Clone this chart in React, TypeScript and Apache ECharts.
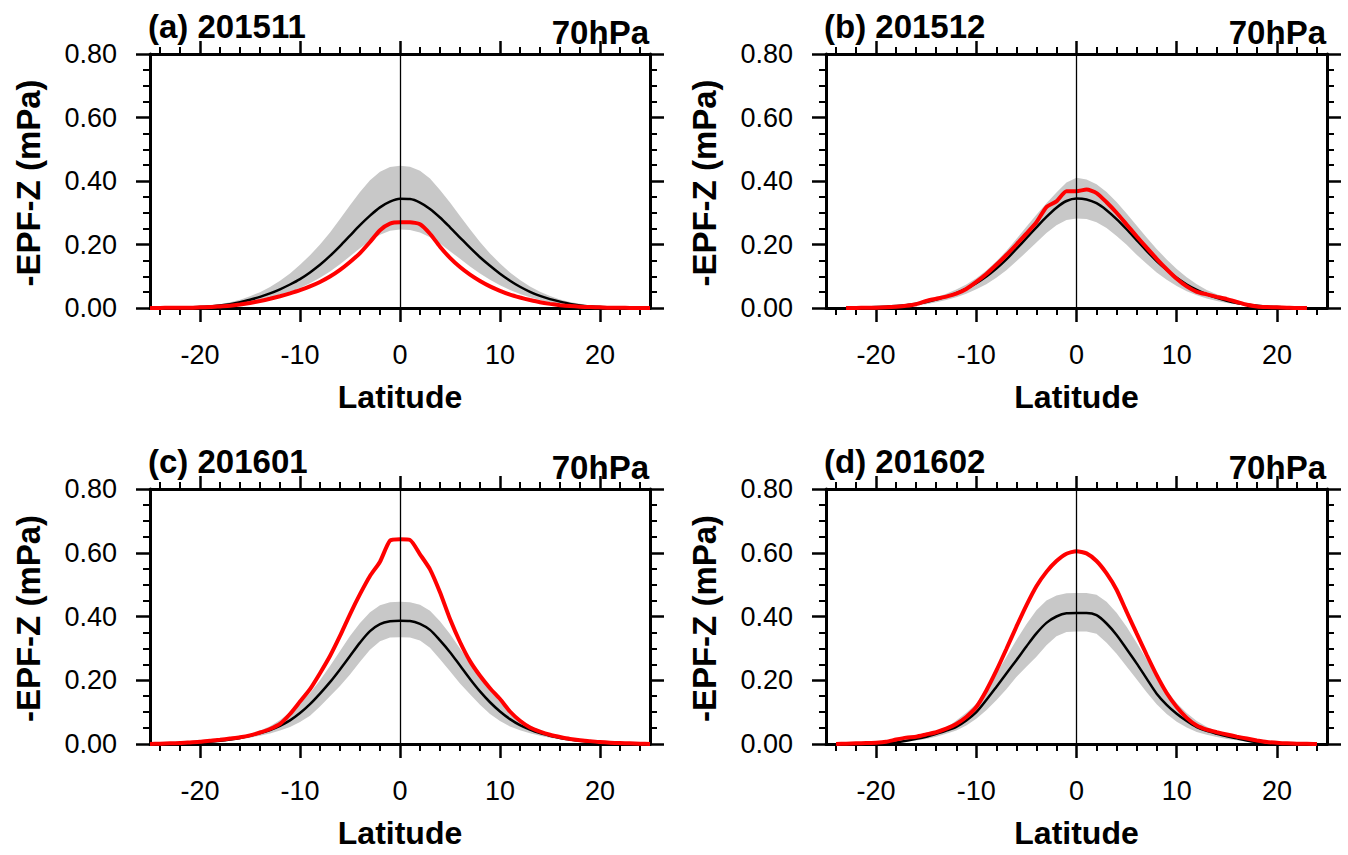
import React, { useEffect, useRef } from "react";
import * as echarts from "echarts";

// ---------------- data ----------------
const latA = [-25,-24,-23,-22,-21,-20,-19,-18,-17,-16,-15,-14,-13,-12,-11,-10,-9,-8,-7,-6,-5,-4,-3,-2,-1,0,1,2,3,4,5,6,7,8,9,10,11,12,13,14,15,16,17,18,19,20,21,22,23,24,25];
const blackA = [0.000,0.000,0.001,0.001,0.002,0.003,0.005,0.008,0.012,0.018,0.026,0.035,0.046,0.059,0.074,0.091,0.112,0.136,0.164,0.195,0.228,0.261,0.291,0.317,0.335,0.344,0.343,0.332,0.312,0.285,0.254,0.222,0.190,0.160,0.133,0.108,0.086,0.067,0.051,0.038,0.028,0.020,0.013,0.008,0.005,0.003,0.002,0.001,0.001,0.000,0.000];
const upperA = [0.000,0.001,0.001,0.002,0.003,0.005,0.008,0.012,0.018,0.026,0.037,0.050,0.066,0.086,0.109,0.136,0.166,0.200,0.238,0.280,0.324,0.365,0.402,0.429,0.444,0.448,0.445,0.432,0.408,0.372,0.332,0.290,0.248,0.208,0.172,0.140,0.112,0.088,0.068,0.051,0.038,0.027,0.019,0.013,0.008,0.005,0.003,0.002,0.001,0.001,0.000];
const lowerA = [0.000,0.000,0.000,0.001,0.001,0.002,0.003,0.005,0.007,0.011,0.016,0.022,0.030,0.039,0.050,0.063,0.078,0.095,0.115,0.138,0.163,0.188,0.212,0.231,0.243,0.247,0.246,0.238,0.223,0.203,0.179,0.155,0.131,0.109,0.089,0.072,0.057,0.044,0.034,0.025,0.018,0.012,0.008,0.005,0.003,0.002,0.001,0.001,0.000,0.000,0.000];
const redA = [0.000,0.000,0.001,0.001,0.001,0.002,0.003,0.005,0.007,0.011,0.016,0.022,0.029,0.037,0.046,0.056,0.068,0.082,0.099,0.120,0.145,0.173,0.208,0.245,0.266,0.270,0.270,0.264,0.234,0.193,0.158,0.129,0.105,0.085,0.068,0.054,0.042,0.033,0.025,0.018,0.013,0.009,0.006,0.004,0.003,0.002,0.001,0.001,0.000,0.000,0.000];

const latB = [-23,-22,-21,-20,-19,-18,-17,-16,-15,-14,-13,-12,-11,-10,-9,-8,-7,-6,-5,-4,-3,-2,-1,0,1,2,3,4,5,6,7,8,9,10,11,12,13,14,15,16,17,18,19,20,21,22,23];
const blackB = [0.001,0.001,0.002,0.003,0.004,0.006,0.009,0.013,0.019,0.027,0.036,0.047,0.061,0.078,0.099,0.124,0.153,0.186,0.220,0.254,0.287,0.316,0.337,0.345,0.342,0.330,0.308,0.280,0.248,0.214,0.180,0.148,0.120,0.095,0.074,0.057,0.043,0.032,0.023,0.016,0.011,0.007,0.004,0.003,0.002,0.001,0.001];
const upperB = [0.001,0.002,0.003,0.004,0.006,0.009,0.013,0.018,0.025,0.034,0.045,0.058,0.074,0.094,0.118,0.147,0.180,0.217,0.256,0.294,0.330,0.364,0.395,0.410,0.405,0.390,0.365,0.334,0.298,0.260,0.222,0.186,0.153,0.123,0.097,0.075,0.057,0.043,0.032,0.023,0.016,0.011,0.007,0.004,0.003,0.002,0.001];
const lowerB = [0.000,0.000,0.001,0.001,0.002,0.003,0.005,0.008,0.012,0.018,0.025,0.034,0.045,0.059,0.075,0.095,0.119,0.147,0.176,0.206,0.236,0.261,0.277,0.282,0.280,0.270,0.252,0.227,0.199,0.168,0.139,0.112,0.089,0.069,0.053,0.040,0.030,0.022,0.016,0.011,0.007,0.004,0.003,0.002,0.001,0.000,0.000];
const redB = [0.000,0.000,0.001,0.001,0.002,0.004,0.007,0.012,0.022,0.029,0.036,0.045,0.060,0.082,0.107,0.136,0.167,0.200,0.234,0.270,0.318,0.336,0.368,0.368,0.373,0.362,0.333,0.300,0.263,0.226,0.190,0.155,0.122,0.092,0.068,0.051,0.043,0.035,0.028,0.019,0.010,0.005,0.003,0.002,0.001,0.000,0.000];

const latC = [-25,-24,-23,-22,-21,-20,-19,-18,-17,-16,-15,-14,-13,-12,-11,-10,-9,-8,-7,-6,-5,-4,-3,-2,-1,0,1,2,3,4,5,6,7,8,9,10,11,12,13,14,15,16,17,18,19,20,21,22,23,24,25];
const blackC = [0.000,0.001,0.001,0.002,0.003,0.005,0.007,0.010,0.014,0.019,0.026,0.034,0.044,0.057,0.074,0.097,0.125,0.158,0.194,0.234,0.276,0.318,0.354,0.376,0.385,0.387,0.386,0.377,0.358,0.325,0.288,0.246,0.204,0.165,0.131,0.102,0.078,0.059,0.045,0.034,0.026,0.019,0.014,0.010,0.007,0.005,0.003,0.002,0.001,0.001,0.000];
const upperC = [0.000,0.001,0.002,0.003,0.004,0.006,0.008,0.012,0.017,0.023,0.031,0.042,0.056,0.075,0.100,0.128,0.160,0.200,0.245,0.292,0.339,0.380,0.413,0.435,0.445,0.446,0.445,0.437,0.418,0.385,0.345,0.300,0.254,0.208,0.167,0.132,0.103,0.078,0.058,0.043,0.032,0.023,0.017,0.012,0.008,0.006,0.004,0.003,0.002,0.001,0.000];
const lowerC = [0.000,0.000,0.001,0.001,0.002,0.004,0.006,0.008,0.011,0.015,0.020,0.026,0.033,0.042,0.053,0.069,0.089,0.118,0.150,0.182,0.218,0.258,0.296,0.322,0.334,0.335,0.334,0.325,0.302,0.266,0.228,0.190,0.156,0.123,0.094,0.072,0.055,0.043,0.034,0.026,0.020,0.015,0.011,0.008,0.006,0.004,0.002,0.001,0.001,0.000,0.000];
const redC = [0.000,0.001,0.002,0.003,0.005,0.007,0.010,0.013,0.017,0.021,0.027,0.036,0.047,0.063,0.094,0.133,0.172,0.222,0.276,0.339,0.407,0.470,0.527,0.572,0.638,0.642,0.640,0.595,0.548,0.476,0.392,0.320,0.260,0.214,0.175,0.141,0.102,0.073,0.052,0.039,0.029,0.022,0.016,0.012,0.009,0.006,0.004,0.003,0.002,0.001,0.000];

const latD = [-24,-23,-22,-21,-20,-19,-18,-17,-16,-15,-14,-13,-12,-11,-10,-9,-8,-7,-6,-5,-4,-3,-2,-1,0,1,2,3,4,5,6,7,8,9,10,11,12,13,14,15,16,17,18,19,20,21,22,23,24];
const blackD = [0.000,0.000,0.000,0.001,0.001,0.002,0.005,0.010,0.016,0.023,0.032,0.042,0.054,0.074,0.100,0.138,0.179,0.221,0.263,0.306,0.347,0.380,0.400,0.410,0.411,0.411,0.404,0.378,0.342,0.298,0.253,0.205,0.158,0.123,0.095,0.072,0.053,0.041,0.032,0.024,0.018,0.011,0.006,0.003,0.001,0.001,0.000,0.000,0.000];
const upperD = [0.000,0.000,0.001,0.001,0.002,0.004,0.008,0.013,0.020,0.028,0.038,0.050,0.074,0.098,0.126,0.172,0.221,0.273,0.326,0.376,0.420,0.450,0.466,0.473,0.474,0.474,0.468,0.446,0.412,0.368,0.318,0.265,0.214,0.168,0.129,0.097,0.072,0.054,0.040,0.029,0.021,0.014,0.008,0.004,0.002,0.001,0.001,0.000,0.000];
const lowerD = [0.000,0.000,0.000,0.000,0.001,0.001,0.003,0.006,0.011,0.016,0.023,0.032,0.042,0.058,0.079,0.106,0.137,0.172,0.210,0.242,0.274,0.310,0.338,0.351,0.353,0.353,0.346,0.318,0.283,0.243,0.203,0.162,0.125,0.094,0.070,0.052,0.038,0.029,0.022,0.016,0.012,0.007,0.004,0.002,0.001,0.000,0.000,0.000,0.000];
const redD = [0.000,0.001,0.002,0.003,0.004,0.007,0.014,0.020,0.023,0.030,0.037,0.048,0.063,0.085,0.116,0.168,0.230,0.298,0.368,0.435,0.495,0.540,0.574,0.597,0.605,0.598,0.574,0.535,0.484,0.415,0.347,0.280,0.216,0.160,0.116,0.082,0.058,0.045,0.037,0.030,0.023,0.017,0.011,0.006,0.004,0.002,0.001,0.001,0.000];

const titles = ["(a) 201511", "(b) 201512", "(c) 201601", "(d) 201602"];
const levelLabel = "70hPa";
const yName = "-EPF-Z (mPa)";
const xName = "Latitude";
const majorX = [-20, -10, 0, 10, 20];
const minorX = [-24, -22, -18, -16, -14, -12, -8, -6, -4, -2, 2, 4, 6, 8, 12, 14, 16, 18, 22, 24];

const panels = [
  { lat: latA, black: blackA, upper: upperA, lower: lowerA, red: redA },
  { lat: latB, black: blackB, upper: upperB, lower: lowerB, red: redB },
  { lat: latC, black: blackC, upper: upperC, lower: lowerC, red: redC },
  { lat: latD, black: blackD, upper: upperD, lower: lowerD, red: redD },
];

// ---------------- layout ----------------
const GRIDS = [
  { left: 150, top: 54, width: 500, height: 254 },
  { left: 826, top: 54, width: 501, height: 254 },
  { left: 150, top: 489, width: 500, height: 255 },
  { left: 826, top: 489, width: 501, height: 255 },
];

const FONT = '"Liberation Sans", Arial, Helvetica, sans-serif';
const BLACK = "#000000";

function buildOption() {
  const grid: any[] = [];
  const xAxis: any[] = [];
  const yAxis: any[] = [];
  const series: any[] = [];
  const graphic: any[] = [];

  GRIDS.forEach((g, gi) => {
    grid.push({ left: g.left, top: g.top, width: g.width, height: g.height, containLabel: false });

    const baseX = {
      gridIndex: gi,
      type: "value",
      min: -25,
      max: 25,
      splitLine: { show: false },
      minorSplitLine: { show: false },
    };
    const tickLine = { color: BLACK, width: 2.5 };
    const minorLine = { color: BLACK, width: 2 };
    xAxis.push({
      ...baseX,
      position: "bottom",
      axisLine: { show: true, onZero: false, lineStyle: { color: BLACK, width: 3 } },
      axisTick: { show: true, inside: false, customValues: majorX, length: 14, lineStyle: tickLine },
      axisLabel: {
        show: true,
        customValues: majorX,
        margin: 33,
        fontSize: 27,
        color: BLACK,
        fontFamily: FONT,
      },
    });
    xAxis.push({
      ...baseX,
      position: "bottom",
      axisLine: { show: false, onZero: false },
      axisTick: { show: true, inside: false, customValues: minorX, length: 7, lineStyle: minorLine },
      axisLabel: { show: false },
    });
    xAxis.push({
      ...baseX,
      position: "top",
      axisLine: { show: true, onZero: false, lineStyle: { color: BLACK, width: 3 } },
      axisTick: { show: true, inside: false, customValues: majorX, length: 13, lineStyle: tickLine },
      axisLabel: { show: false },
    });
    xAxis.push({
      ...baseX,
      position: "top",
      axisLine: { show: false, onZero: false },
      axisTick: { show: true, inside: false, customValues: minorX, length: 7, lineStyle: minorLine },
      axisLabel: { show: false },
    });

    const baseY = {
      gridIndex: gi,
      type: "value",
      min: 0,
      max: 0.8,
      interval: 0.2,
      splitLine: { show: false },
      minorSplitLine: { show: false },
      axisLine: { show: true, onZero: false, lineStyle: { color: BLACK, width: 3 } },
      axisTick: { show: true, inside: false, length: 14, lineStyle: tickLine },
      minorTick: { show: true, splitNumber: 4, length: 7, lineStyle: minorLine },
    };
    yAxis.push({
      ...baseY,
      position: "left",
      axisLabel: {
        show: true,
        margin: 33,
        fontSize: 27,
        color: BLACK,
        fontFamily: FONT,
        formatter: (v: number) => v.toFixed(2),
      },
    });
    yAxis.push({ ...baseY, position: "right", axisLabel: { show: false } });

    const p = panels[gi];
    const xi = gi * 4;
    const yi = gi * 2;

    // shaded spread band (polygon through upper then lower, via axis scales)
    series.push({
      type: "custom",
      xAxisIndex: xi,
      yAxisIndex: yi,
      silent: true,
      z: 1,
      data: p.lat.map((x, i) => [x, p.lower[i], p.upper[i]]),
      encode: { x: 0, y: [1, 2] },
      renderItem: (params: any, api: any) => {
        if (params.dataIndex !== 0) return null;
        const pts: number[][] = [];
        for (let i = 0; i < p.lat.length; i++) pts.push(api.coord([p.lat[i], p.upper[i]]));
        for (let i = p.lat.length - 1; i >= 0; i--) pts.push(api.coord([p.lat[i], p.lower[i]]));
        return {
          type: "polygon",
          shape: { points: pts },
          style: { fill: "#c8c8c8", stroke: "none" },
        };
      },
    });
    series.push({
      type: "line",
      xAxisIndex: xi,
      yAxisIndex: yi,
      data: p.lat.map((x, i) => [x, p.black[i]]),
      symbol: "none",
      smooth: 0.3,
      silent: true,
      lineStyle: { color: BLACK, width: 2.5 },
      z: 3,
    });
    series.push({
      type: "line",
      xAxisIndex: xi,
      yAxisIndex: yi,
      data: p.lat.map((x, i) => [x, p.red[i]]),
      symbol: "none",
      smooth: 0.2,
      silent: true,
      lineStyle: { color: "#ff0000", width: 4 },
      z: 4,
      markLine: {
        silent: true,
        symbol: ["none", "none"],
        label: { show: false },
        lineStyle: { color: BLACK, width: 1.3, type: "solid" },
        data: [{ xAxis: 0 }],
        z: 5,
      },
    });

    graphic.push({
      type: "text",
      x: g.left - 2,
      y: g.top - 28,
      style: {
        text: titles[gi],
        fill: BLACK,
        font: `bold 33px ${FONT}`,
        align: "left",
        verticalAlign: "middle",
        textAlign: "left",
        textVerticalAlign: "middle",
      },
    });
    graphic.push({
      type: "text",
      x: g.left + g.width - 1,
      y: g.top - 22,
      style: {
        text: levelLabel,
        fill: BLACK,
        font: `bold 33px ${FONT}`,
        align: "right",
        verticalAlign: "middle",
        textAlign: "right",
        textVerticalAlign: "middle",
      },
    });
    graphic.push({
      type: "text",
      x: g.left - 122,
      y: g.top + g.height / 2 + 2,
      rotation: Math.PI / 2,
      style: {
        text: yName,
        fill: BLACK,
        font: `bold 33px ${FONT}`,
        align: "center",
        verticalAlign: "middle",
        textAlign: "center",
        textVerticalAlign: "middle",
      },
    });
    graphic.push({
      type: "text",
      x: g.left + g.width / 2,
      y: g.top + g.height + 89,
      style: {
        text: xName,
        fill: BLACK,
        font: `bold 32px ${FONT}`,
        align: "center",
        verticalAlign: "middle",
        textAlign: "center",
        textVerticalAlign: "middle",
      },
    });
  });

  return {
    animation: false,
    backgroundColor: "#ffffff",
    grid,
    xAxis,
    yAxis,
    series,
    graphic,
  };
}

export default function App() {
  const ref = useRef<HTMLDivElement>(null);
  useEffect(() => {
    document.body.style.margin = "0";
    if (!ref.current) return;
    const chart = echarts.init(ref.current, undefined, { renderer: "svg" });
    chart.setOption(buildOption() as any);
    return () => {
      chart.dispose();
    };
  }, []);
  return <div ref={ref} style={{ width: 1348, height: 855 }} />;
}
